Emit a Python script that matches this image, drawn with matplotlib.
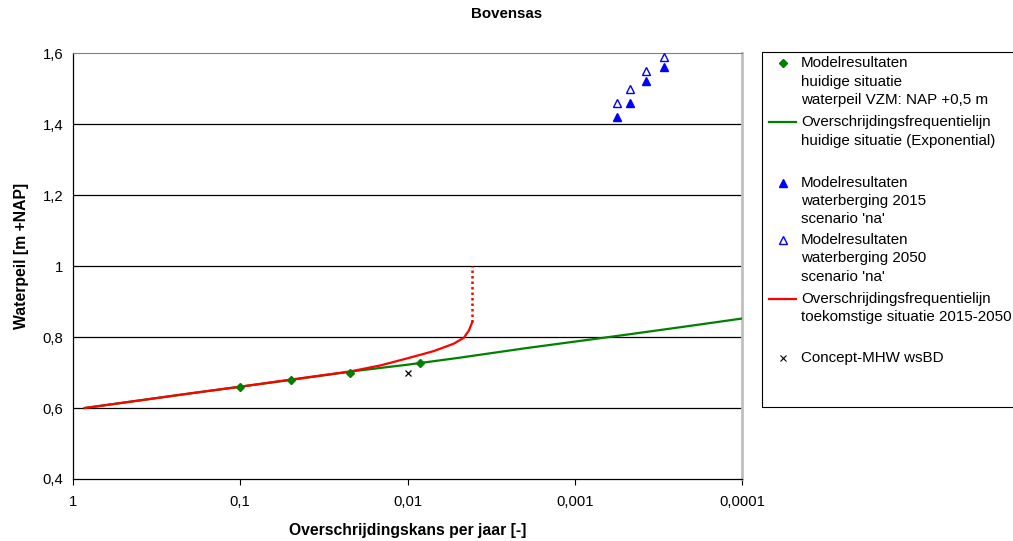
import matplotlib
matplotlib.use("Agg")
import matplotlib.pyplot as plt
from matplotlib.lines import Line2D
from matplotlib.patches import Rectangle

plt.rcParams['font.family'] = ['Liberation Sans', 'DejaVu Sans']

# model results, current situation
freq_model = [0.1, 0.05, 0.022, 0.0084]
level_model = [0.66, 0.68, 0.70, 0.728]

# exceedance frequency line, current situation (exponential)
freq_green = [0.85, 0.5, 0.2, 0.1, 0.05, 0.02, 0.01, 0.005, 0.002, 0.001, 0.0005, 0.0002, 0.0001]
level_green = [0.600, 0.615, 0.641, 0.660, 0.679, 0.705, 0.722, 0.741, 0.768, 0.787, 0.806, 0.832, 0.852]

# exceedance frequency line, future situation 2015-2050
freq_red = [0.85, 0.5, 0.2, 0.1, 0.05, 0.022, 0.0145, 0.01, 0.007, 0.0053, 0.0046, 0.0043, 0.0041]
level_red = [0.600, 0.615, 0.641, 0.660, 0.680, 0.703, 0.720, 0.740, 0.760, 0.781, 0.798, 0.818, 0.842]
freq_red_dot = [0.0041, 0.0041]
level_red_dot = [0.842, 1.0]

# water storage results
freq_storage = [0.00056, 0.000465, 0.000376, 0.000292]
level_2015 = [1.42, 1.46, 1.52, 1.56]
level_2050 = [1.46, 1.50, 1.55, 1.59]

# concept MHW
freq_mhw = [0.01]
level_mhw = [0.70]

x_ticks = [1, 0.1, 0.01, 0.001, 0.0001]
x_labels = ['1', '0,1', '0,01', '0,001', '0,0001']
y_ticks = [0.4, 0.6, 0.8, 1.0, 1.2, 1.4, 1.6]
y_labels = ['0,4', '0,6', '0,8', '1', '1,2', '1,4', '1,6']

W, H = 1013, 541
fig = plt.figure(figsize=(W / 100, H / 100), dpi=100)
ax = fig.add_axes([73 / W, 1 - 479 / H, (742 - 73) / W, (479 - 53) / H])

ax.plot(freq_green, level_green, color='#008000', lw=1.6, zorder=3)
ax.plot(freq_red, level_red, color='#ff0000', lw=1.6, zorder=4)
ax.plot(freq_red_dot, level_red_dot, color='#ff0000', lw=1.8, ls=(0, (1, 1.2)), zorder=4)
ax.plot(freq_model, level_model, ls='none', marker='D', ms=4.5, color='#008000', zorder=5)
ax.plot(freq_storage, level_2015, ls='none', marker='^', ms=6, color='#0000ff', zorder=5)
ax.plot(freq_storage, level_2050, ls='none', marker='^', ms=6, mfc='white', mec='#0000ff', mew=1, zorder=5)
ax.plot(freq_mhw, level_mhw, ls='none', marker='x', ms=5, color='black', mew=0.9, zorder=5)

ax.set_xscale('log')
ax.set_xlim(1, 0.0001)
ax.set_ylim(0.4, 1.6)
ax.set_xticks(x_ticks)
ax.set_xticklabels(x_labels)
ax.minorticks_off()
ax.set_yticks(y_ticks)
ax.set_yticklabels(y_labels)
ax.tick_params(axis='x', direction='out', length=4, width=0.8, labelsize=10.7, pad=7.5)
ax.tick_params(axis='y', length=0, labelsize=10.7, pad=7)
for v in y_ticks[1:-1]:
    ax.axhline(v, color='black', lw=0.9, zorder=1)

ax.spines['top'].set_color('#808080')
ax.spines['right'].set_color('#c0c0c0')
ax.spines['right'].set_linewidth(2)
ax.spines['left'].set_linewidth(0.9)
ax.spines['bottom'].set_linewidth(0.9)

fig.text(0.5, 1 - 14 / H, 'Bovensas', fontsize=10.8, fontweight='bold', ha='center', va='center')
ax.set_xlabel('Overschrijdingskans per jaar [-]', fontsize=11.3, fontweight='bold', labelpad=10)
ax.set_ylabel('Waterpeil [m +NAP]', fontsize=11.3, fontweight='bold')
ax.yaxis.set_label_coords(-(73 - 21.5) / (742 - 73), (479 - 256) / (479 - 53))
ax.xaxis.set_label_coords(0.5, -(530 - 479) / (479 - 53))
ax.xaxis.label.set_va('center')
ax.yaxis.label.set_va('center')

# legend, drawn by hand so the handles sit on the first line of each label
def fx(px):
    return px / W

def fy(py):
    return 1 - py / H

fig.add_artist(Rectangle((fx(762), fy(407)), fx(300), (407 - 52) / H, transform=fig.transFigure,
                         facecolor='white', edgecolor='black', lw=0.8, zorder=1))

entries = [
    (['Modelresultaten', 'huidige situatie', 'waterpeil VZM: NAP +0,5 m'],
     dict(ls='none', marker='D', ms=4, color='#008000')),
    (['Overschrijdingsfrequentielijn', 'huidige situatie (Exponential)'],
     dict(color='#008000', lw=1.6)),
    (['Modelresultaten', 'waterberging 2015', "scenario 'na'"],
     dict(ls='none', marker='^', ms=5.5, color='#0000ff')),
    (['Modelresultaten', 'waterberging 2050', "scenario 'na'"],
     dict(ls='none', marker='^', ms=5.5, mfc='white', mec='#0000ff', mew=1)),
    (['Overschrijdingsfrequentielijn', 'toekomstige situatie 2015-2050'],
     dict(color='#ff0000', lw=1.6)),
    (['Concept-MHW wsBD'],
     dict(ls='none', marker='x', ms=4.5, color='black', mew=0.8)),
]
entry_top = [63.3, 122.3, 182.7, 240, 299, 357.7]
line_pitch = 18.3

for (lines, style), y0 in zip(entries, entry_top):
    if style.get('ls') == 'none':
        xs = [fx(782.5)]
    else:
        xs = [fx(769), fx(796)]
    fig.add_artist(Line2D(xs, [fy(y0)] * len(xs), transform=fig.transFigure, zorder=2, **style))
    for i, txt in enumerate(lines):
        fig.text(fx(801), fy(y0 + i * line_pitch), txt, fontsize=10.9, va='center', ha='left')

fig.savefig('out.png', dpi=100)
